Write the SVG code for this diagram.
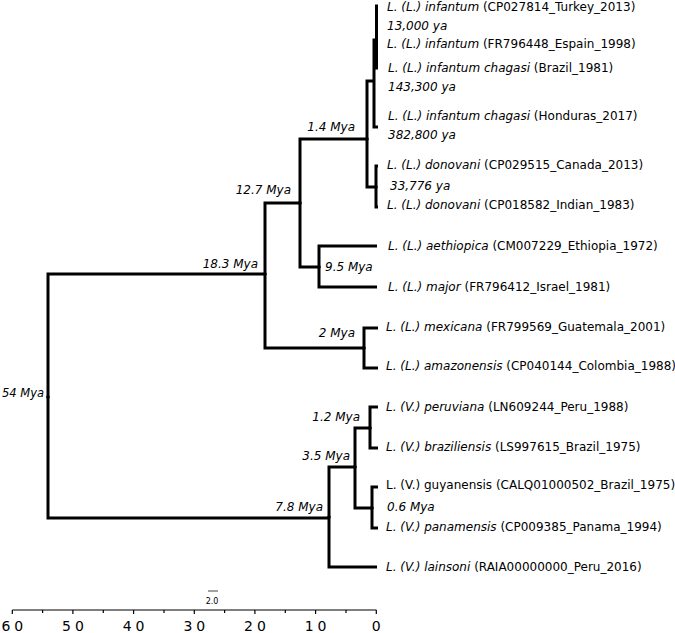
<svg xmlns="http://www.w3.org/2000/svg" width="675" height="633" viewBox="0 0 675 633">
<style>
text{font-family:"DejaVu Sans",sans-serif;font-size:12px;fill:#000}
.i{font-style:italic}
.age{font-style:italic}
.br{fill:none;stroke:#000;stroke-width:3;stroke-linejoin:miter}
.dot{fill:#000}
.ax{stroke:#000;stroke-width:1.2;fill:none}
.tk{font-size:14px;letter-spacing:4px;text-anchor:middle}
</style>
<rect width="675" height="633" fill="#fff"/>
<g id="connectors">
<path class="br" d="M265 274H48V518H329"/>
<path class="br" d="M300 203H265V348H364"/>
<path class="br" d="M368 139H300V267H319"/>
<path class="br" d="M377 246H319V287H377"/>
<path class="br" d="M378 328H364V368H378"/>
<path class="br" d="M355 467H329V567H377"/>
<path class="br" d="M370 428H355V508H372"/>
<path class="br" d="M378 407H370V448H378"/>
<path class="br" d="M378 487H372V528H378"/>
<path class="br" d="M374 81H367V187H376"/>
<path class="br" d="M378 166H376V207H378"/>
<path class="br" d="M376 40H374V127H378"/>
<path class="br" d="M378 6H376.5V68H378"/>
<path class="br" d="M376.5 28H378"/>
</g>
<g id="dots">
<circle class="dot" cx="48" cy="397" r="1.8"/>
<circle class="dot" cx="265" cy="274" r="1.8"/>
<circle class="dot" cx="300" cy="203" r="1.8"/>
<circle class="dot" cx="319" cy="267" r="1.8"/>
<circle class="dot" cx="364" cy="348" r="1.8"/>
<circle class="dot" cx="329" cy="517" r="1.8"/>
<circle class="dot" cx="355" cy="467" r="1.8"/>
<circle class="dot" cx="370" cy="428" r="1.8"/>
<circle class="dot" cx="372" cy="508" r="1.8"/>
<circle class="dot" cx="367" cy="139" r="1.8"/>
<circle class="dot" cx="376" cy="187" r="1.8"/>
</g>
<g id="tips">
<g id="tip-turkey"><text x="387" y="11"><tspan class="i">L. (L.) infantum</tspan> (CP027814_Turkey_2013)</text></g>
<g id="tip-spain"><text x="387" y="48"><tspan class="i">L. (L.) infantum</tspan> (FR796448_Espain_1998)</text></g>
<g id="tip-brazil"><text x="388" y="72"><tspan class="i">L. (L.) infantum chagasi</tspan> (Brazil_1981)</text></g>
<g id="tip-honduras"><text x="388" y="120"><tspan class="i">L. (L.) infantum chagasi</tspan> (Honduras_2017)</text></g>
<g id="tip-canada"><text x="387" y="169"><tspan class="i">L. (L.) donovani</tspan> (CP029515_Canada_2013)</text></g>
<g id="tip-indian"><text x="387" y="209"><tspan class="i">L. (L.) donovani</tspan> (CP018582_Indian_1983)</text></g>
<g id="tip-aethiopica"><text x="388" y="250"><tspan class="i">L. (L.) aethiopica</tspan> (CM007229_Ethiopia_1972)</text></g>
<g id="tip-major"><text x="388" y="291"><tspan class="i">L. (L.) major</tspan> (FR796412_Israel_1981)</text></g>
<g id="tip-mexicana"><text x="386" y="331"><tspan class="i">L. (L.) mexicana</tspan> (FR799569_Guatemala_2001)</text></g>
<g id="tip-amazonensis"><text x="386" y="370"><tspan class="i">L. (L.) amazonensis</tspan> (CP040144_Colombia_1988)</text></g>
<g id="tip-peruviana"><text x="386" y="411"><tspan class="i">L. (V.) peruviana</tspan> (LN609244_Peru_1988)</text></g>
<g id="tip-braziliensis"><text x="386" y="451"><tspan class="i">L. (V.) braziliensis</tspan> (LS997615_Brazil_1975)</text></g>
<g id="tip-guyanensis"><text x="386" y="489">L. (V.) guyanensis (CALQ01000502_Brazil_1975)</text></g>
<g id="tip-panamensis"><text x="386" y="531"><tspan class="i">L. (V.) panamensis</tspan> (CP009385_Panama_1994)</text></g>
<g id="tip-lainsoni"><text x="386" y="571"><tspan class="i">L. (V.) lainsoni</tspan> (RAIA00000000_Peru_2016)</text></g>
</g>
<g id="ages">
<g id="n-13000"><text class="age" x="387" y="30">13,000 ya</text></g>
<g id="n-143300"><text class="age" x="388" y="91">143,300 ya</text></g>
<g id="n-382800"><text class="age" x="388" y="139">382,800 ya</text></g>
<g id="n-33776"><text class="age" x="390" y="190">33,776 ya</text></g>
<g id="n-1.4"><text class="age" x="355" y="131" text-anchor="end">1.4 Mya</text></g>
<g id="n-12.7"><text class="age" x="291" y="194" text-anchor="end">12.7 Mya</text></g>
<g id="n-9.5"><text class="age" x="325" y="271">9.5 Mya</text></g>
<g id="n-18.3"><text class="age" x="258" y="268" text-anchor="end">18.3 Mya</text></g>
<g id="n-2"><text class="age" x="355" y="337" text-anchor="end">2 Mya</text></g>
<g id="n-54"><text class="age" x="2" y="397" style="font-size:11.5px">54 Mya</text></g>
<g id="n-1.2"><text class="age" x="360" y="421" text-anchor="end">1.2 Mya</text></g>
<g id="n-3.5"><text class="age" x="350" y="460" text-anchor="end">3.5 Mya</text></g>
<g id="n-0.6"><text class="age" x="387" y="511">0.6 Mya</text></g>
<g id="n-7.8"><text class="age" x="323" y="511" text-anchor="end">7.8 Mya</text></g>
</g>
<g id="scalebar">
<line x1="208" y1="591" x2="218" y2="591" stroke="#444" stroke-width="1"/>
<text x="212" y="604" text-anchor="middle" style="font-size:8px">2.0</text>
</g>
<g id="axis">
<path class="ax" d="M12.3 610H376.5M12.3 610v4M42.6 610v3M72.9 610v4M103.3 610v3M133.6 610v4M164 610v3M194.3 610v4M224.6 610v3M254.9 610v4M285.3 610v3M315.6 610v4M346 610v3M376.3 610v4"/>
<text class="tk" x="14.3" y="631">60</text>
<text class="tk" x="74.9" y="631">50</text>
<text class="tk" x="135.6" y="631">40</text>
<text class="tk" x="196.3" y="631">30</text>
<text class="tk" x="256.9" y="631">20</text>
<text class="tk" x="317.6" y="631">10</text>
<text class="tk" x="378.3" y="631">0</text>
</g>
</svg>
